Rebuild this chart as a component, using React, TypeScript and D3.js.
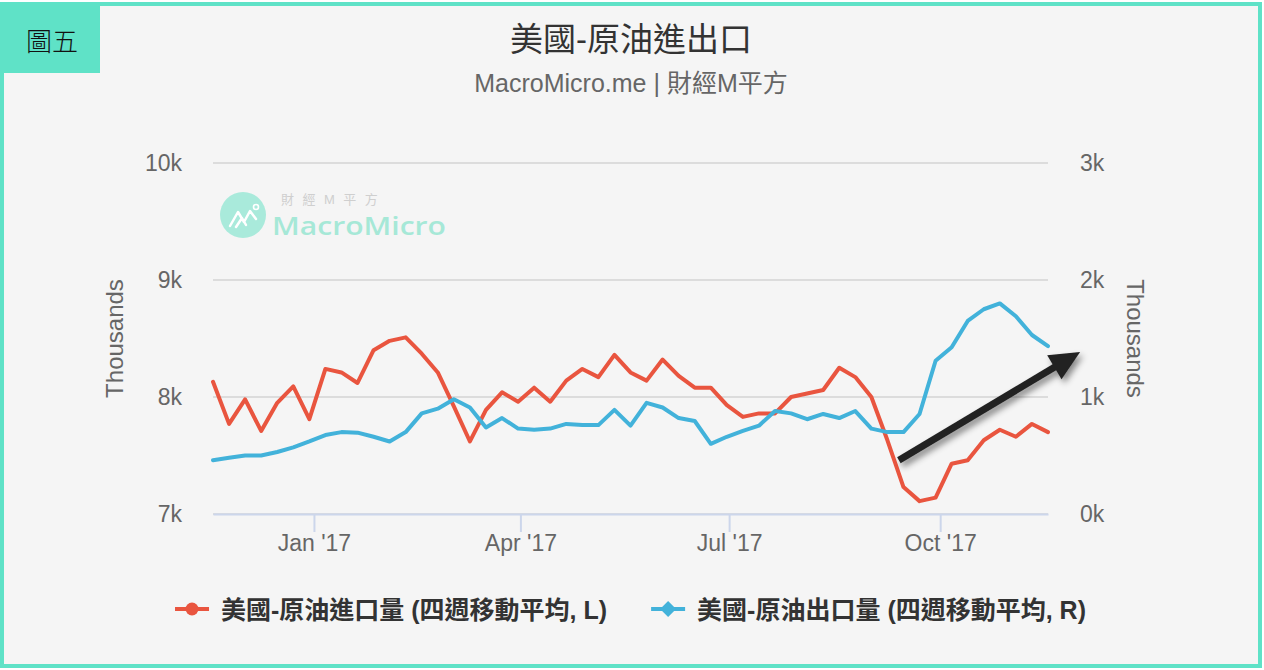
import { useEffect, useRef } from 'react';
import * as d3 from 'd3';

// weekly observations (Fridays)
const dates = [
  '2016-11-18', '2016-11-25', '2016-12-02', '2016-12-09', '2016-12-16', '2016-12-23', '2016-12-30',
  '2017-01-06', '2017-01-13', '2017-01-20', '2017-01-27', '2017-02-03', '2017-02-10', '2017-02-17',
  '2017-02-24', '2017-03-03', '2017-03-10', '2017-03-17', '2017-03-24', '2017-03-31', '2017-04-07',
  '2017-04-14', '2017-04-21', '2017-04-28', '2017-05-05', '2017-05-12', '2017-05-19', '2017-05-26',
  '2017-06-02', '2017-06-09', '2017-06-16', '2017-06-23', '2017-06-30', '2017-07-07', '2017-07-14',
  '2017-07-21', '2017-07-28', '2017-08-04', '2017-08-11', '2017-08-18', '2017-08-25', '2017-09-01',
  '2017-09-08', '2017-09-15', '2017-09-22', '2017-09-29', '2017-10-06', '2017-10-13', '2017-10-20',
  '2017-10-27', '2017-11-03', '2017-11-10', '2017-11-17',
];

// 美國-原油進口量 (thousand barrels / day, left axis)
const imports = [
  8130, 7770, 7980, 7710, 7950, 8090, 7810, 8240, 8210, 8120, 8400, 8480, 8510, 8370,
  8210, 7920, 7620, 7890, 8040, 7960, 8080, 7960, 8140, 8240, 8170, 8360, 8210, 8140,
  8320, 8180, 8080, 8080, 7930, 7830, 7860, 7860, 8000, 8030, 8060, 8250, 8170, 8000,
  7630, 7230, 7110, 7140, 7430, 7460, 7630, 7720, 7660, 7770, 7700,
];

// 美國-原油出口量 (thousand barrels / day, right axis)
const exportsVals = [
  460, 480, 500, 500, 530, 570, 620, 675, 700, 695, 660, 620, 700, 860,
  900, 980, 910, 740, 820, 730, 720, 730, 770, 760, 760, 890, 755, 950,
  910, 820, 795, 600, 660, 710, 755, 880, 860, 810, 855, 820, 880, 730,
  700, 700, 855, 1310, 1425, 1650, 1750, 1800, 1690, 1530, 1435,
];

const leftTicks = [7000, 8000, 9000, 10000];
const rightTicks = [0, 1000, 2000, 3000];
const monthTicks = ['2017-01-01', '2017-04-01', '2017-07-01', '2017-10-01'];

const titleText = '美國-原油進出口';
const subtitleText = 'MacroMicro.me | 財經M平方';
const badgeText = '圖五';
const axisTitle = 'Thousands';
const legendNames = ['美國-原油進口量 (四週移動平均, L)', '美國-原油出口量 (四週移動平均, R)'];

// annotation arrow, in data terms of the right axis
const arrowFrom = { date: '2017-09-13', value: 460 };
const arrowTo = { date: '2017-12-01', value: 1385 };

const RED = '#e9553f';
const BLUE = '#42b2da';
const TEAL = '#5fe2c7';
const FONT = '"Liberation Sans", Helvetica, Arial, "Noto Sans CJK TC", sans-serif';

export default function App(): JSX.Element {
  const svgRef = useRef<SVGSVGElement>(null);

  useEffect(() => {
    if (svgRef.current) {
      svgRef.current.innerHTML = '';
    }
    const width = 1264;
    const height = 670;
    const marginLeft = 213;
    const marginRight = 216;
    const marginTop = 163;
    const marginBottom = 156;

    const parse = d3.utcParse('%Y-%m-%d');
    const points = dates.map((d, i) => ({ date: parse(d) as Date, imp: imports[i], exp: exportsVals[i] }));

    const x = d3.scaleUtc(
      [points[0].date, points[points.length - 1].date],
      [marginLeft, width - marginRight]
    );
    const yL = d3.scaleLinear([7000, 10000], [height - marginBottom, marginTop]);
    const yR = d3.scaleLinear([0, 3000], [height - marginBottom, marginTop]);

    const svg = d3
      .select(svgRef.current)
      .attr('width', width)
      .attr('height', height)
      .attr('viewBox', [0, 0, width, height])
      .style('font-family', FONT);

    const defs = svg.append('defs');
    defs
      .append('filter')
      .attr('id', 'arrowShadow')
      .attr('x', '-20%')
      .attr('y', '-20%')
      .attr('width', '140%')
      .attr('height', '160%')
      .append('feDropShadow')
      .attr('dx', 3)
      .attr('dy', 4)
      .attr('stdDeviation', 3)
      .attr('flood-color', '#000')
      .attr('flood-opacity', 0.45);

    // background + frame
    svg.append('rect').attr('x', 2).attr('y', 4).attr('width', 1258).attr('height', 662)
      .attr('fill', '#f5f5f5').attr('stroke', TEAL).attr('stroke-width', 4);

    // badge
    svg.append('rect').attr('x', 2).attr('y', 4).attr('width', 98).attr('height', 69).attr('fill', TEAL);
    svg.append('text').attr('x', 52).attr('y', 51).attr('text-anchor', 'middle')
      .attr('font-size', 26).attr('fill', '#111')
      .style('font-family', '"Noto Sans CJK TC", sans-serif')
      .style('font-weight', 300)
      .text(badgeText);

    // title + subtitle
    svg.append('text').attr('x', 631).attr('y', 51).attr('text-anchor', 'middle')
      .attr('font-size', 33).attr('fill', '#333').text(titleText);
    svg.append('text').attr('x', 631).attr('y', 92).attr('text-anchor', 'middle')
      .attr('font-size', 25).attr('fill', '#666').text(subtitleText);

    // watermark
    const wm = svg.append('g');
    wm.append('circle').attr('cx', 243).attr('cy', 215).attr('r', 23).attr('fill', '#a9eadb');
    wm.append('path')
      .attr('d', 'M230,226 L238,212 L244,222 L250,211 L256,219 M236,227 L242,218 L246,225')
      .attr('fill', 'none').attr('stroke', '#fff').attr('stroke-width', 2.5)
      .attr('stroke-linecap', 'round').attr('stroke-linejoin', 'round');
    wm.append('circle').attr('cx', 256).attr('cy', 207).attr('r', 2.5)
      .attr('fill', 'none').attr('stroke', '#fff').attr('stroke-width', 1.6);
    wm.append('text').attr('x', 281).attr('y', 204).attr('font-size', 13).attr('fill', '#cfcfcf')
      .attr('letter-spacing', 8.5).text('財經M平方');
    wm.append('text').attr('x', 272).attr('y', 235).attr('font-size', 26).attr('font-weight', 600)
      .attr('fill', '#a6e8d7').attr('textLength', 174).attr('lengthAdjust', 'spacingAndGlyphs')
      .style('font-family', '"Open Sans", "Noto Sans", sans-serif')
      .text('MacroMicro');

    // grid lines
    svg.append('g')
      .selectAll('line')
      .data(leftTicks)
      .join('line')
      .attr('x1', marginLeft)
      .attr('x2', width - marginRight)
      .attr('y1', (d) => yL(d))
      .attr('y2', (d) => yL(d))
      .attr('stroke', '#dcdcdc')
      .attr('stroke-width', 2);

    // left axis labels
    svg.append('g')
      .selectAll('text')
      .data(leftTicks)
      .join('text')
      .attr('x', 182)
      .attr('y', (d) => yL(d) + 8)
      .attr('text-anchor', 'end')
      .attr('font-size', 23)
      .attr('fill', '#666')
      .text((d) => `${d / 1000}k`);

    // right axis labels
    svg.append('g')
      .selectAll('text')
      .data(rightTicks)
      .join('text')
      .attr('x', 1080)
      .attr('y', (d) => yR(d) + 8)
      .attr('text-anchor', 'start')
      .attr('font-size', 23)
      .attr('fill', '#666')
      .text((d) => `${d / 1000}k`);

    // axis titles
    svg.append('text')
      .attr('transform', `translate(123,${(marginTop + height - marginBottom) / 2}) rotate(-90)`)
      .attr('text-anchor', 'middle').attr('font-size', 24).attr('fill', '#666').text(axisTitle);
    svg.append('text')
      .attr('transform', `translate(1127,${(marginTop + height - marginBottom) / 2}) rotate(90)`)
      .attr('text-anchor', 'middle').attr('font-size', 24).attr('fill', '#666').text(axisTitle);

    // x axis
    svg.append('g')
      .attr('transform', `translate(0,${height - marginBottom})`)
      .call(
        d3.axisBottom(x)
          .tickValues(monthTicks.map((d) => parse(d) as Date))
          .tickSize(18)
          .tickSizeOuter(0)
          .tickFormat((d) => d3.utcFormat("%b '%y")(d as Date))
      )
      .call((g) => g.select('.domain').attr('stroke', '#ccd6eb').attr('stroke-width', 2))
      .call((g) => g.selectAll('.tick line').attr('stroke', '#ccd6eb').attr('stroke-width', 2))
      .call((g) =>
        g.selectAll('.tick text')
          .attr('font-size', 23)
          .attr('fill', '#666')
          .attr('font-family', FONT)
      );

    // lines
    const lineImp = d3.line<typeof points[0]>().x((d) => x(d.date)).y((d) => yL(d.imp));
    const lineExp = d3.line<typeof points[0]>().x((d) => x(d.date)).y((d) => yR(d.exp));

    svg.append('path').attr('fill', 'none').attr('stroke', RED).attr('stroke-width', 4)
      .attr('stroke-linejoin', 'round').attr('stroke-linecap', 'round').attr('d', lineImp(points));
    svg.append('path').attr('fill', 'none').attr('stroke', BLUE).attr('stroke-width', 4)
      .attr('stroke-linejoin', 'round').attr('stroke-linecap', 'round').attr('d', lineExp(points));

    // arrow annotation
    const x0 = x(parse(arrowFrom.date) as Date);
    const y0 = yR(arrowFrom.value);
    const x1 = x(parse(arrowTo.date) as Date);
    const y1 = yR(arrowTo.value);
    const ang = Math.atan2(y1 - y0, x1 - x0);
    const headLen = 30;
    const headHalf = 14;
    const bx = x1 - headLen * Math.cos(ang);
    const by = y1 - headLen * Math.sin(ang);
    const px = -Math.sin(ang);
    const py = Math.cos(ang);
    const arrow = svg.append('g').attr('filter', 'url(#arrowShadow)');
    arrow.append('line').attr('x1', x0).attr('y1', y0).attr('x2', bx + 2 * Math.cos(ang)).attr('y2', by + 2 * Math.sin(ang))
      .attr('stroke', '#222').attr('stroke-width', 7);
    arrow.append('path')
      .attr('d', `M${x1},${y1} L${bx + px * headHalf},${by + py * headHalf} L${bx - px * headHalf},${by - py * headHalf} Z`)
      .attr('fill', '#222');

    // legend
    const legend = svg.append('g');
    const colors = [RED, BLUE];
    let cursor = 0;
    legendNames.forEach((name, i) => {
      const item = legend.append('g').attr('transform', `translate(${cursor},0)`);
      item.append('line').attr('x1', 0).attr('x2', 34).attr('y1', 0).attr('y2', 0)
        .attr('stroke', colors[i]).attr('stroke-width', 4);
      if (i === 0) {
        item.append('circle').attr('cx', 17).attr('cy', 0).attr('r', 6.5).attr('fill', colors[i]);
      } else {
        item.append('path').attr('d', 'M17,-8 L25,0 L17,8 L9,0 Z').attr('fill', colors[i]);
      }
      const t = item.append('text').attr('x', 46).attr('y', 10).attr('font-size', 25)
        .attr('font-weight', 'bold').attr('fill', '#333').text(name);
      const w = (t.node() as SVGTextElement).getComputedTextLength();
      cursor += 46 + w + 44;
    });
    const legendWidth = cursor - 44;
    legend.attr('transform', `translate(${(marginLeft + width - marginRight) / 2 - legendWidth / 2},609)`);
  }, []);

  return (
    <div style={{ position: 'absolute', left: 0, top: 0 }}>
      <svg ref={svgRef} style={{ display: 'block' }} />
    </div>
  );
}
